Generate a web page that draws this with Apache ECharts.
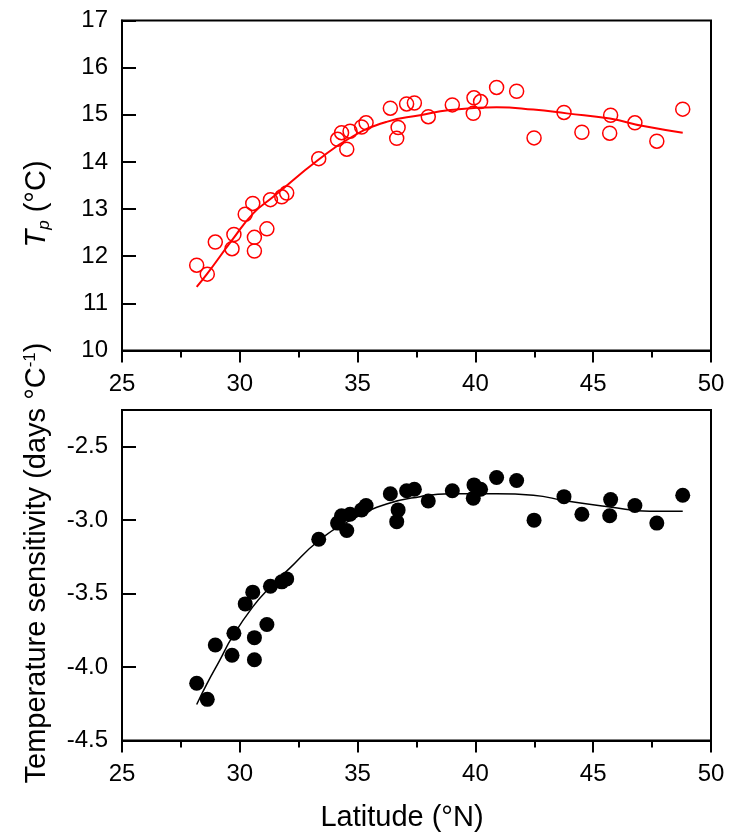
<!DOCTYPE html>
<html>
<head>
<meta charset="utf-8">
<script src="https://cdn.jsdelivr.net/npm/echarts@6/dist/echarts.min.js"></script>
<style>
html,body{margin:0;padding:0;background:#fff;}
#chart{width:732px;height:839px;}
</style>
</head>
<body>
<div id="chart"></div>
<script>
// Latitude (°N) of each site (shared by both panels)
var latitude = [28.17, 28.62, 28.96, 29.67, 29.75, 30.23, 30.55, 30.62, 30.62, 31.15,
  31.30, 31.78, 31.99, 33.35, 34.15, 34.32, 34.54, 34.68, 35.17, 35.36,
  36.39, 36.72, 36.66, 37.08, 37.41, 38.00, 39.02, 39.94, 40.22, 39.91,
  40.90, 41.75, 42.49, 43.76, 44.52, 45.74, 45.70, 46.77, 47.70, 48.80];
// Top panel: Tp (°C)
var tpValues = [11.81, 11.62, 12.30, 12.16, 12.46, 12.89, 13.12, 12.40, 12.11, 12.58,
  13.20, 13.26, 13.34, 14.07, 14.48, 14.62, 14.27, 14.65, 14.74, 14.83,
  15.14, 14.73, 14.50, 15.23, 15.25, 14.96, 15.21, 15.36, 15.28, 15.03,
  15.58, 15.50, 14.51, 15.05, 14.63, 14.99, 14.61, 14.83, 14.44, 15.12];
// Bottom panel: temperature sensitivity (days °C-1)
var sensValues = [-4.11, -4.22, -3.85, -3.92, -3.77, -3.57, -3.49, -3.80, -3.95, -3.71,
  -3.45, -3.42, -3.40, -3.13, -3.02, -2.97, -3.07, -2.96, -2.93, -2.90,
  -2.82, -2.93, -3.01, -2.80, -2.79, -2.87, -2.80, -2.76, -2.79, -2.85,
  -2.71, -2.73, -3.00, -2.84, -2.96, -2.86, -2.97, -2.90, -3.02, -2.83];
// Fitted curves
var tpFitLat = [28.17, 28.62, 29.67, 30.57, 31.42, 33.35, 34.82, 36.23, 37.65, 38.93, 40.90, 42.46, 43.88, 45.71, 47.13, 48.80];
var tpFitVal = [11.35, 11.63, 12.34, 12.91, 13.26, 14.05, 14.55, 14.85, 14.99, 15.10, 15.16, 15.11, 15.03, 14.92, 14.76, 14.62];
var sensFitLat = [28.17, 28.62, 29.13, 29.70, 30.55, 31.26, 32.10, 33.35, 34.82, 36.23, 37.65, 38.93, 40.90, 42.46, 43.88, 45.71, 47.40, 48.80];
var sensFitVal = [-4.255, -4.11, -3.96, -3.79, -3.59, -3.46, -3.33, -3.14, -2.99, -2.89, -2.84, -2.82, -2.82, -2.83, -2.87, -2.91, -2.94, -2.94];
// Axis ticks
var xTicks = {min: 25, max: 50, interval: 5};
var tpTicks = {min: 10, max: 17, interval: 1};
var sensTicks = {min: -4.5, max: -2.25, interval: 0.5};

function pairs(xs, ys) { return xs.map(function (x, i) { return [x, ys[i]]; }); }

var FONT = 'Liberation Sans, Arial, sans-serif';
var GRID_L = 122, GRID_W = 589;
var TICK_FS = 24, TITLE_FS = 29;

function xAxis(gridIndex) {
  return {
    type: 'value', gridIndex: gridIndex,
    min: xTicks.min, max: xTicks.max, interval: xTicks.interval,
    axisLine: {show: true, lineStyle: {color: '#000', width: 2}},
    axisTick: {show: true, inside: false, length: 12, lineStyle: {color: '#000', width: 2}},
    minorTick: {show: true, splitNumber: 2, length: 7, lineStyle: {color: '#000', width: 2}},
    splitLine: {show: false},
    axisLabel: {color: '#000', fontSize: TICK_FS, fontFamily: FONT, margin: 22}
  };
}

function yAxis(gridIndex, ticks, digits) {
  return {
    type: 'value', gridIndex: gridIndex,
    min: ticks.min, max: ticks.max, interval: ticks.interval,
    axisLine: {show: true, lineStyle: {color: '#000', width: 2}},
    axisTick: {show: true, inside: true, length: 14, lineStyle: {color: '#000', width: 2}},
    splitLine: {show: false},
    axisLabel: {color: '#000', fontSize: TICK_FS, fontFamily: FONT, margin: 14,
      showMaxLabel: gridIndex === 0,
      formatter: function (v) { return v.toFixed(digits); }}
  };
}

var chart = echarts.init(document.getElementById('chart'), null, {renderer: 'canvas'});
chart.setOption({
  animation: false,
  backgroundColor: '#fff',
  grid: [
    {left: GRID_L, top: 20.5, width: GRID_W, height: 330, show: true, borderColor: '#000', borderWidth: 2, backgroundColor: 'transparent'},
    {left: GRID_L, top: 410, width: GRID_W, height: 330.5, show: true, borderColor: '#000', borderWidth: 2, backgroundColor: 'transparent'}
  ],
  xAxis: [xAxis(0), xAxis(1)],
  yAxis: [yAxis(0, tpTicks, 0), yAxis(1, sensTicks, 1)],
  graphic: [
    {type: 'text', x: 37, y: 204, rotation: Math.PI / 2, z: 10,
      style: {text: '{it|T}{sub|p}{n| (°C)}', x: 0, y: 0, align: 'center', verticalAlign: 'middle',
        rich: {
          it: {fontStyle: 'italic', fontSize: TITLE_FS, fontFamily: FONT, fill: '#000'},
          sub: {fontStyle: 'italic', fontSize: 17, fontFamily: FONT, fill: '#000', verticalAlign: 'bottom', padding: [14, 0, 0, 0]},
          n: {fontSize: TITLE_FS, fontFamily: FONT, fill: '#000'}
        }}},
    {type: 'text', x: 37, y: 563, rotation: Math.PI / 2, z: 10,
      style: {text: '{n|Temperature sensitivity (days °C}{sup|-1}{n|)}', x: 0, y: 0, align: 'center', verticalAlign: 'middle',
        rich: {
          n: {fontSize: TITLE_FS, fontFamily: FONT, fill: '#000'},
          sup: {fontSize: 17, fontFamily: FONT, fill: '#000', verticalAlign: 'top', padding: [0, 0, 14, 0]}
        }}},
    {type: 'text', x: 402, y: 818, z: 10,
      style: {text: 'Latitude (°N)', x: 0, y: 0, align: 'center', verticalAlign: 'middle',
        fontSize: TITLE_FS, fontFamily: FONT, fill: '#000'}}
  ],
  series: [
    {type: 'scatter', xAxisIndex: 0, yAxisIndex: 0, data: pairs(latitude, tpValues),
      symbol: 'circle', symbolSize: 14,
      itemStyle: {color: 'rgba(0,0,0,0)', borderColor: '#ff0000', borderWidth: 1.5, opacity: 1}, z: 3},
    {type: 'line', xAxisIndex: 0, yAxisIndex: 0, data: pairs(tpFitLat, tpFitVal),
      smooth: true, showSymbol: false, lineStyle: {color: '#ff0000', width: 2}, z: 4},
    {type: 'scatter', xAxisIndex: 1, yAxisIndex: 1, data: pairs(latitude, sensValues),
      symbol: 'circle', symbolSize: 15,
      itemStyle: {color: '#000', opacity: 1}, z: 3},
    {type: 'line', xAxisIndex: 1, yAxisIndex: 1, data: pairs(sensFitLat, sensFitVal),
      smooth: true, showSymbol: false, lineStyle: {color: '#000', width: 1.5}, z: 4}
  ]
});
</script>
</body>
</html>
